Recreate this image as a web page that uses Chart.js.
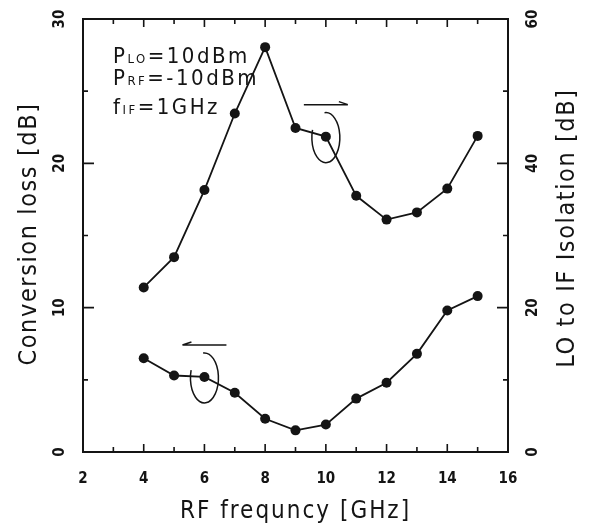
<!DOCTYPE html>
<html>
<head>
<title>Conversion loss / LO to IF isolation</title>
<script src="https://cdn.jsdelivr.net/npm/chart.js"></script>
<style>
  body { margin: 0; background: #fff; }
</style>
</head>
<body>
<canvas id="mixerChart" width="594" height="525"></canvas>
<script>
// values
const rfFreq = [4, 5, 6, 7, 8, 9, 10, 11, 12, 13, 14, 15];
const conversionLoss = [6.5, 5.3, 5.2, 4.1, 2.3, 1.5, 1.9, 3.7, 4.8, 6.8, 9.8, 10.8];
const loIfIsolation = [22.8, 27.0, 36.3, 46.9, 56.1, 44.9, 43.7, 35.5, 32.2, 33.2, 36.5, 43.8];
const xTicks = [2, 4, 6, 8, 10, 12, 14, 16];
const lossTicks = [0, 10, 20, 30];
const isoTicks = [0, 20, 40, 60];

const INK = '#141414';
const FONT = '"Liberation Sans Narrow", "DejaVu Sans Condensed", "Liberation Sans", sans-serif';

function vText(ctx, str, x, y) {
    ctx.save();
    ctx.translate(x, y);
    ctx.rotate(-Math.PI / 2);
    ctx.textAlign = 'center';
    ctx.textBaseline = 'middle';
    ctx.fillText(str, 0, 0);
    ctx.restore();
}

// draws "P" + subscript + rest, left aligned at baseline
function subText(ctx, parts, x, y) {
    let cx = x;
    parts.forEach(([txt, sub]) => {
        ctx.font = sub ? '13px ' + FONT : '22px ' + FONT;
        ctx.fillText(txt, cx, y);
        cx += ctx.measureText(txt).width;
    });
}

const framePlugin = {
    id: 'frame',
    beforeDatasetsDraw(chart) {
        const { ctx, chartArea: a, scales } = chart;
        ctx.save();
        ctx.strokeStyle = INK;
        ctx.lineWidth = 2;
        ctx.strokeRect(a.left, a.top, a.right - a.left, a.bottom - a.top);
        ctx.lineWidth = 1.6;
        ctx.beginPath();
        // x ticks (inward, bottom and top)
        for (let v = 3; v < 16; v++) {
            const px = scales.x.getPixelForValue(v);
            const len = v % 2 === 0 ? 8 : 5;
            ctx.moveTo(px, a.bottom); ctx.lineTo(px, a.bottom - len);
            ctx.moveTo(px, a.top); ctx.lineTo(px, a.top + len);
        }
        // left ticks
        for (let v = 5; v < 30; v += 5) {
            const py = scales.y.getPixelForValue(v);
            const len = v % 10 === 0 ? 11 : 5;
            ctx.moveTo(a.left, py); ctx.lineTo(a.left + len, py);
        }
        // right ticks
        for (let v = 10; v < 60; v += 10) {
            const py = scales.y2.getPixelForValue(v);
            const len = v % 20 === 0 ? 11 : 5;
            ctx.moveTo(a.right, py); ctx.lineTo(a.right - len, py);
        }
        ctx.stroke();
        ctx.restore();
    },
    afterDraw(chart) {
        const { ctx, chartArea: a, scales } = chart;
        ctx.save();
        ctx.fillStyle = INK;
        ctx.strokeStyle = INK;

        // tick labels from the scales
        ctx.font = 'bold 15px ' + FONT;
        ctx.textAlign = 'center';
        ctx.textBaseline = 'middle';
        scales.x.ticks.forEach(t => {
            ctx.fillText(String(t.value), scales.x.getPixelForValue(t.value), a.bottom + 27);
        });
        scales.y.ticks.forEach(t => vText(ctx, String(t.value), a.left - 23, scales.y.getPixelForValue(t.value)));
        scales.y2.ticks.forEach(t => vText(ctx, String(t.value), a.right + 25, scales.y2.getPixelForValue(t.value)));

        // axis titles
        ctx.font = '24px ' + FONT;
        ctx.letterSpacing = '2px';
        ctx.textBaseline = 'alphabetic';
        ctx.fillText('RF frequncy [GHz]', (a.left + a.right) / 2, a.bottom + 66);
        ctx.font = '25px ' + FONT;
        ctx.letterSpacing = '1.6px';
        vText(ctx, 'Conversion loss [dB]', 29, 234);
        vText(ctx, 'LO to IF Isolation [dB]', 567, 228);

        // condition notes
        ctx.textAlign = 'left';
        ctx.letterSpacing = '2.5px';
        subText(ctx, [['P'], ['LO', true], ['=10dBm']], 113, 63);
        subText(ctx, [['P'], ['RF', true], ['=-10dBm']], 113, 85);
        subText(ctx, [['f'], ['IF', true], ['=1GHz']], 113, 114);
        ctx.letterSpacing = '0px';

        // ellipses + arrows marking which axis each curve uses
        ctx.lineWidth = 1.5;
        const marks = [
            { px: scales.x.getPixelForValue(rfFreq[2]), py: scales.y.getPixelForValue(conversionLoss[2]), dir: -1 },
            { px: scales.x.getPixelForValue(rfFreq[6]), py: scales.y2.getPixelForValue(loIfIsolation[6]), dir: 1 }
        ];
        marks.forEach(m => {
            ctx.beginPath();
            ctx.ellipse(m.px, m.py + 1, 14, 25, 0, -Math.PI * 0.53, Math.PI * 1.1);
            ctx.stroke();
            const ay = m.py - 32;
            const x0 = m.px - 22, x1 = m.px + 22;
            ctx.beginPath();
            ctx.moveTo(x0, ay); ctx.lineTo(x1, ay);
            const tip = m.dir < 0 ? x0 : x1;
            ctx.moveTo(tip, ay); ctx.lineTo(tip - m.dir * 9, ay - 3);
            ctx.stroke();
        });
        ctx.restore();
    }
};

const toXY = vals => vals.map((v, i) => ({ x: rfFreq[i], y: v }));
const lineStyle = {
    showLine: true,
    borderColor: INK,
    borderWidth: 1.8,
    pointRadius: 5,
    pointBackgroundColor: INK,
    pointBorderColor: INK,
    pointBorderWidth: 0,
    tension: 0
};

new Chart(document.getElementById('mixerChart').getContext('2d'), {
    type: 'scatter',
    data: {
        datasets: [
            { label: 'Conversion loss', data: toXY(conversionLoss), yAxisID: 'y', ...lineStyle },
            { label: 'LO to IF isolation', data: toXY(loIfIsolation), yAxisID: 'y2', ...lineStyle }
        ]
    },
    options: {
        responsive: false,
        animation: false,
        layout: { padding: { left: 83, right: 86, top: 19, bottom: 73 } },
        scales: {
            x: {
                type: 'linear', display: false, min: 2, max: 16,
                afterBuildTicks: s => { s.ticks = xTicks.map(v => ({ value: v })); }
            },
            y: {
                type: 'linear', display: false, min: 0, max: 30,
                afterBuildTicks: s => { s.ticks = lossTicks.map(v => ({ value: v })); }
            },
            y2: {
                type: 'linear', display: false, position: 'right', min: 0, max: 60,
                afterBuildTicks: s => { s.ticks = isoTicks.map(v => ({ value: v })); }
            }
        },
        plugins: { legend: { display: false }, tooltip: { enabled: false } }
    },
    plugins: [framePlugin]
});
</script>
</body>
</html>
